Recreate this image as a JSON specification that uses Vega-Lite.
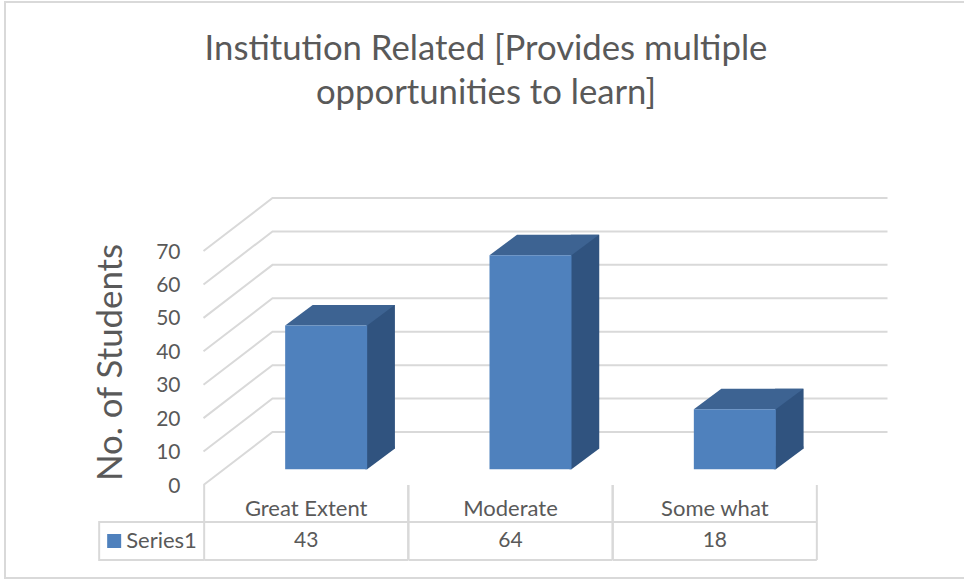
{
"$schema":"https://vega.github.io/schema/vega-lite/v6.json",
"autosize":"none",
"padding":{"left":5,"top":2,"right":-2,"bottom":3},
"width":961,
"height":576,
"background":"white",
"view":{"stroke":"#d9d9d9","strokeWidth":2,"fill":"white"},
"title":{"text":["Institution Related [Provides multiple","opportunities to learn]"],"font":"Lato","fontSize":34.7,"fontWeight":"normal","color":"#595959","anchor":"middle","dx":0.5,"offset":-110,"lineHeight":44},
"data":{"values":[{"category":"Great Extent","students":43},{"category":"Moderate","students":64},{"category":"Some what","students":18}]},
"encoding":{
"x":{"field":"category","type":"nominal","sort":null,"scale":{"type":"band","domain":["Great Extent","Moderate","Some what"],"range":[199,812],"paddingInner":0.6,"paddingOuter":0.3},"axis":{"title":null,"labelAngle":0,"domain":false,"ticks":false,"grid":false,"offset":-93,"labelPadding":13,"labelFont":"Lato","labelFontSize":22,"labelColor":"#595959"}},
"y":{"field":"students","type":"quantitative","scale":{"domain":[0,70],"range":[483,249],"nice":false,"zero":true},"axis":{"title":"No. of Students","values":[0,10,20,30,40,50,60,70],"domain":false,"ticks":false,"grid":false,"offset":-199,"labelPadding":24,"labelOffset":1,"labelFont":"Lato","labelFontSize":21,"labelColor":"#595959","titleFont":"Lato","titleFontSize":34.8,"titleFontWeight":"normal","titleColor":"#595959","titlePadding":27,"titleY":360}}
},
"layer":[
{"data":{"values":[{"level":0},{"level":10},{"level":20},{"level":30},{"level":40},{"level":50},{"level":60},{"level":70}]},
 "mark":{"type":"point","shape":"M-307,0 L-238,-53 L377,-53","size":4,"filled":false,"fill":null,"stroke":"#d9d9d9","strokeWidth":2,"opacity":1},
 "encoding":{"x":{"datum":"Moderate"},"y":{"field":"level","type":"quantitative"}}},
{"mark":{"type":"bar","size":28.5,"xOffset":74.5,"yOffset":-36.2,"y2Offset":-36.2,"color":"#30537f"},"encoding":{"y2":{"datum":0}}},
{"mark":{"type":"point","shape":"M39,0 L41,0 L68.5,-20.5 L68.5,-23 L39,-23 Z","size":4,"filled":true,"color":"#30537f","opacity":1,"xOffset":20,"yOffset":-15.7},"encoding":{"y":{"datum":0}}},
{"mark":{"type":"point","shape":"M-41,0 L41,0 L68.5,-20.5 L-13.5,-20.5 Z","size":4,"filled":true,"color":"#3d6392","opacity":1,"xOffset":20,"yOffset":-15.7}},
{"mark":{"type":"bar","size":82,"xOffset":20,"yOffset":-15.7,"y2Offset":-15.7,"color":"#4f81bd"},"encoding":{"y2":{"datum":0}}},
{"mark":{"type":"point","shape":"M-102,0 V75 M102,0 V75 M-102,37 H102 M-102,75 H102","size":4,"filled":false,"fill":null,"stroke":"#d9d9d9","strokeWidth":2,"opacity":1},"encoding":{"y":{"datum":0}}},
{"mark":{"type":"text","font":"Lato","fontSize":21,"color":"#595959","yOffset":56},"encoding":{"y":{"datum":0},"text":{"field":"students","type":"quantitative"}}},
{"data":{"values":[{"series":"Series1","category":"Great Extent","students":0}]},
 "mark":{"type":"point","shape":"M-102,37 H-207 V75 H-102","size":4,"filled":false,"fill":null,"stroke":"#d9d9d9","strokeWidth":2,"opacity":1}},
{"data":{"values":[{"series":"Series1","category":"Great Extent","students":0}]},
 "mark":{"type":"point","shape":"M-199,49 H-185 V63 H-199 Z","size":4,"filled":true,"color":"#4f81bd","opacity":1}},
{"data":{"values":[{"series":"Series1","category":"Great Extent","students":0}]},
 "mark":{"type":"text","font":"Lato","fontSize":22,"color":"#595959","align":"left","xOffset":-180,"yOffset":56},"encoding":{"text":{"field":"series"}}}
]
}
